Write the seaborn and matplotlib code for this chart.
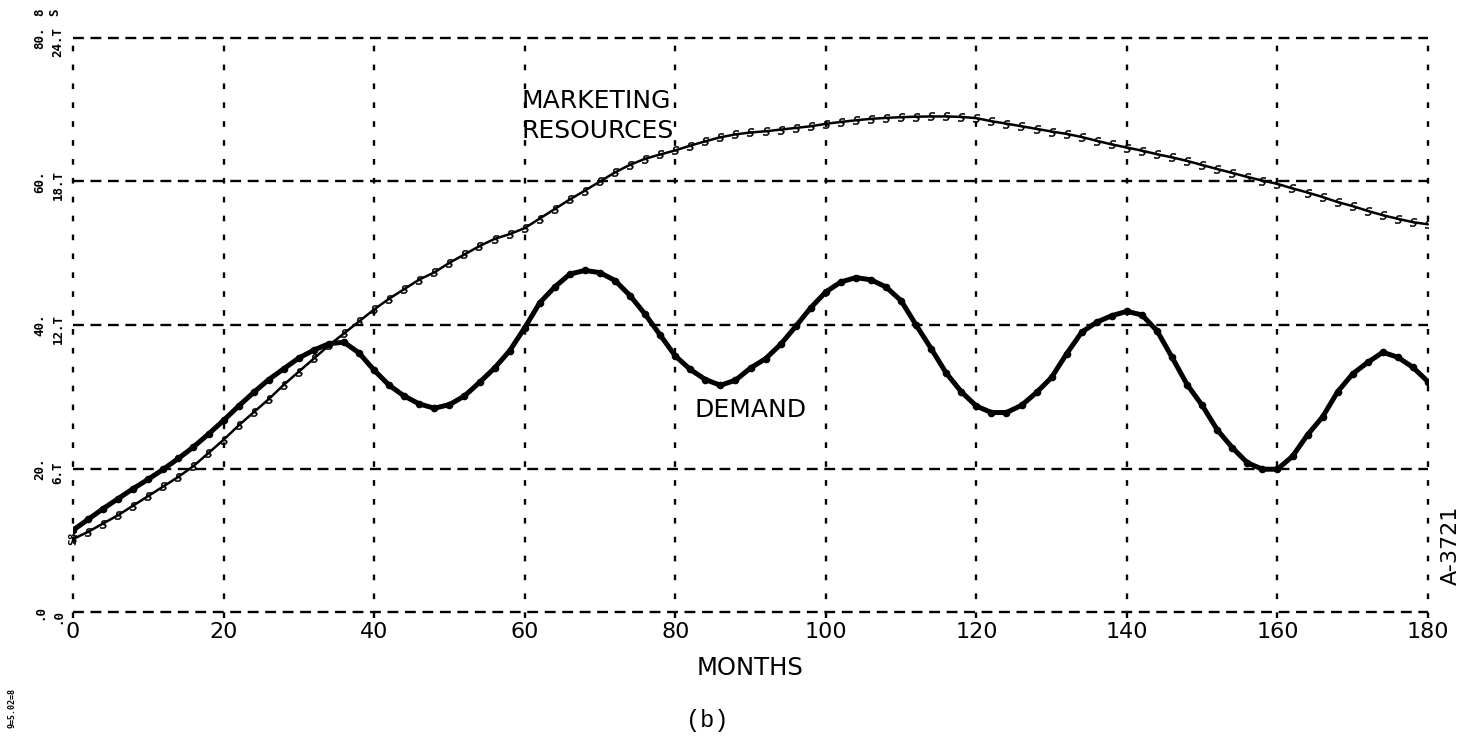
import numpy as np
import pandas as pd
import matplotlib
matplotlib.use("Agg")
import matplotlib.pyplot as plt
import seaborn as sns

# Simulation output, sampled every 2 months
months = np.arange(0, 181, 2)

demand = [
    11.4, 12.9, 14.4, 15.8, 17.2, 18.5, 19.9, 21.4, 23.0, 24.8,
    26.7, 28.7, 30.6, 32.4, 33.9, 35.4, 36.5, 37.4, 37.6, 36.1,
    33.7, 31.6, 30.1, 29.0, 28.4, 28.9, 30.1, 32.0, 34.0, 36.4,
    39.6, 43.1, 45.3, 47.1, 47.6, 47.3, 46.2, 44.1, 41.5, 38.6,
    35.7, 33.8, 32.4, 31.6, 32.3, 34.0, 35.3, 37.3, 39.8, 42.4,
    44.6, 46.0, 46.6, 46.3, 45.3, 43.4, 40.0, 36.7, 33.3, 30.7,
    28.7, 27.8, 27.8, 28.8, 30.6, 32.7, 36.0, 39.0, 40.4, 41.3,
    41.9, 41.4, 39.2, 35.5, 31.7, 28.8, 25.4, 22.9, 20.8, 19.9,
    19.9, 21.7, 24.7, 27.2, 30.7, 33.2, 34.8, 36.2, 35.5, 34.1,
    32.1,
]

# Marketing resources, in T units (right-hand scale of the pair)
marketing = [
    3.05, 3.35, 3.7, 4.05, 4.45, 4.85, 5.25, 5.65, 6.1, 6.65,
    7.2, 7.8, 8.35, 8.9, 9.5, 10.05, 10.6, 11.15, 11.65, 12.15,
    12.65, 13.1, 13.5, 13.9, 14.2, 14.6, 14.95, 15.3, 15.6, 15.8,
    16.05, 16.45, 16.85, 17.25, 17.62, 18.0, 18.38, 18.7, 18.95, 19.13,
    19.3, 19.5, 19.68, 19.85, 19.97, 20.05, 20.1, 20.17, 20.24, 20.31,
    20.41, 20.49, 20.56, 20.62, 20.66, 20.69, 20.71, 20.72, 20.72, 20.70,
    20.65, 20.52, 20.42, 20.31, 20.2, 20.09, 19.99, 19.86, 19.7, 19.55,
    19.42, 19.29, 19.14, 19.01, 18.86, 18.69, 18.52, 18.36, 18.19, 18.04,
    17.9, 17.71, 17.54, 17.35, 17.14, 16.97, 16.77, 16.59, 16.44, 16.3,
    16.21,
]

x_ticks = [0, 20, 40, 60, 80, 100, 120, 140, 160, 180]
x_tick_labels = ["0", "20", "40", "60", "80", "100", "120", "140", "160", "180"]
left_scale = [0, 20, 40, 60, 80]
left_labels = [".0", "20.", "40.", "60.", "80."]
t_scale = [0, 6, 12, 18, 24]
t_labels = [".0", "6.T", "12.T", "18.T", "24.T"]

df = pd.DataFrame({"month": months, "demand": demand, "marketing": marketing})

sns.set_style("white")
plt.rcParams["font.family"] = ["DejaVu Sans"]
plt.rcParams["text.color"] = "black"
plt.rcParams["axes.labelcolor"] = "black"
plt.rcParams["xtick.color"] = "black"

W, H = 1469, 740
fig = plt.figure(figsize=(W / 100, H / 100), dpi=100)
fig.patch.set_facecolor("white")

x0, x1, y0, y1 = 73, 1428, 38, 612
ax = fig.add_axes([x0 / W, 1 - y1 / H, (x1 - x0) / W, (y1 - y0) / H])
ax.set_facecolor("white")
ax.set_xlim(0, 180)
ax.set_ylim(0, 80)
for s in ax.spines.values():
    s.set_visible(False)

# dashed grid: short ticks on the verticals, longer dashes on the horizontals
for xv in x_ticks:
    ax.axvline(xv, ymin=-0.01, ymax=1.0, color="black", lw=1.7,
               linestyle=(0, (2.4, 5.6)), clip_on=False, zorder=1)
for yv in left_scale:
    ax.axhline(yv, color="black", lw=1.7, linestyle=(0, (4.6, 2.8)),
               clip_on=False, zorder=1)

sns.lineplot(data=df, x="month", y="demand", ax=ax, color="black",
             linewidth=3.6, marker="o", markersize=5.5, markeredgewidth=0,
             zorder=3, legend=False)

ax2 = ax.twinx()
ax2.set_ylim(0, 24)
ax2.set_xlim(0, 180)
for s in ax2.spines.values():
    s.set_visible(False)
sns.lineplot(data=df, x="month", y="marketing", ax=ax2, color="black",
             linewidth=1.8, marker="$S$", markersize=6, markeredgewidth=0.4,
             markerfacecolor="black", markeredgecolor="black",
             zorder=3, legend=False)
ax2.set_yticks([])
ax2.set_ylabel("")

ax.set_yticks([])
ax.set_ylabel("")
ax.set_xticks(x_ticks)
ax.set_xticklabels(x_tick_labels, fontsize=16)
ax.tick_params(axis="x", length=0, pad=7)
ax.set_xlabel("MONTHS", fontsize=17.5, labelpad=10)

# curve annotations
ax.text(59.6, 71.2, "MARKETING", fontsize=18, ha="left", va="center")
ax.text(59.6, 67.0, "RESOURCES", fontsize=18, ha="left", va="center")
ax.text(82.6, 28.2, "DEMAND", fontsize=18, ha="left", va="center")

# left-hand paired scale labels, printed sideways
mono = "DejaVu Sans Mono"
for v, lab in zip(left_scale, left_labels):
    ypx = y1 - (y1 - y0) * v / 80
    fig.text(40 / W, 1 - ypx / H, lab, rotation=90, ha="center", va="center",
             fontsize=9, fontweight="bold", family=mono)
for v, lab in zip(t_scale, t_labels):
    ypx = y1 - (y1 - y0) * v / 24
    fig.text(58 / W, 1 - (ypx + 4) / H, lab, rotation=90, ha="center",
             va="center", fontsize=9, fontweight="bold", family=mono)

fig.text(40 / W, 1 - 12 / H, "8", rotation=90, ha="center", va="center",
         fontsize=9, fontweight="bold", family=mono)
fig.text(55 / W, 1 - 12 / H, "S", rotation=90, ha="center", va="center",
         fontsize=9, fontweight="bold", family=mono)
fig.text(73 / W, 1 - 538 / H, "S8", rotation=90, ha="center", va="center",
         fontsize=8, fontweight="bold", family=mono)
fig.text(12 / W, 1 - 708 / H, "9=5.02=8", rotation=90, ha="center",
         va="center", fontsize=6, fontweight="bold", family=mono)

fig.text(1451 / W, 1 - 545 / H, "A-3721", rotation=90, ha="center",
         va="center", fontsize=16)
fig.text(707 / W, 1 - 721 / H, "(b)", ha="center", va="center",
         fontsize=17, family="Liberation Mono")

fig.savefig("out.png", dpi=100, facecolor="white")
